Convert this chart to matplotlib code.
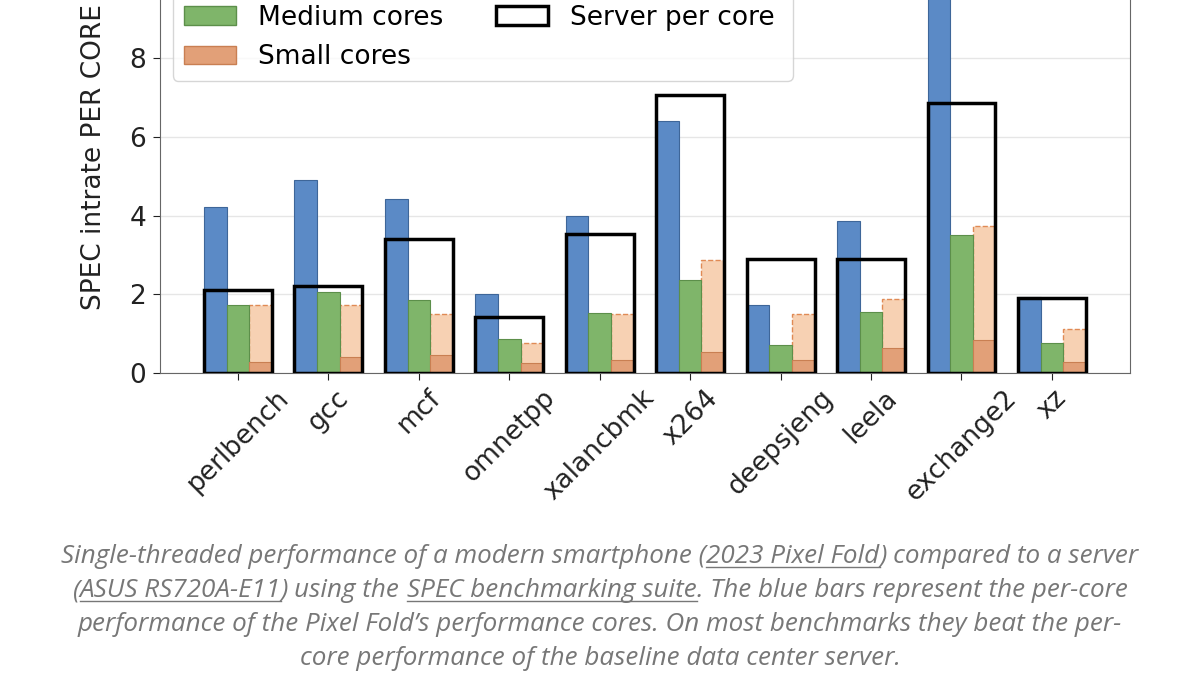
import numpy as np
import matplotlib
matplotlib.use("Agg")
import matplotlib.pyplot as plt
from matplotlib.patches import Patch
from matplotlib.lines import Line2D

benchmarks = ["perlbench", "gcc", "mcf", "omnetpp", "xalancbmk", "x264",
              "deepsjeng", "leela", "exchange2", "xz"]
big_cores = [4.21, 4.90, 4.41, 2.00, 4.00, 6.41, 1.74, 3.86, 10.3, 1.94]
medium_cores = [1.72, 2.05, 1.85, 0.86, 1.52, 2.36, 0.71, 1.54, 3.50, 0.75]
small_cores = [0.27, 0.41, 0.47, 0.26, 0.33, 0.53, 0.33, 0.63, 0.85, 0.29]
small_cores_all = [1.74, 1.73, 1.50, 0.75, 1.50, 2.87, 1.50, 1.88, 3.74, 1.12]
server_per_core = [2.11, 2.21, 3.41, 1.43, 3.52, 7.06, 2.90, 2.90, 6.85, 1.90]

caption = [
    [("Single-threaded performance of a modern smartphone (", False),
     ("2023 Pixel Fold", True), (") compared to a server", False)],
    [("(", False), ("ASUS RS720A-E11", True), (") using the ", False),
     ("SPEC benchmarking suite", True),
     (". The blue bars represent the per-core", False)],
    [("performance of the Pixel Fold\u2019s performance cores. On most benchmarks they beat the per-", False)],
    [("core performance of the baseline data center server.", False)],
]

c_blue = "#5B8AC6"
c_green = "#7FB56A"
c_orange = "#E2A078"
c_light = "#F7D1B3"

fs = 19

fig = plt.figure(figsize=(12, 6.75), dpi=100)
# axes top runs past the figure edge, like the cropped screenshot
ax = fig.add_axes([0.1333, 0.4474, 0.8083, 0.6385])

x = np.arange(len(benchmarks))
w = 0.25

ax.bar(x + w, small_cores_all, w, color=c_light, edgecolor="#E08A55",
       linestyle="--", linewidth=1, zorder=2)
ax.bar(x - w, big_cores, w, color=c_blue, edgecolor="#3E6699", linewidth=0.8,
       zorder=3)
ax.bar(x, medium_cores, w, color=c_green, edgecolor="#5C8F4A", linewidth=0.8,
       zorder=3)
ax.bar(x + w, small_cores, w, color=c_orange, edgecolor="#C97F52", linewidth=0.8,
       zorder=3)
ax.bar(x, server_per_core, 3 * w, fill=False, edgecolor="black", linewidth=2.5,
       zorder=4)

ax.set_ylim(0, 10.95)
ax.set_yticks([0, 2, 4, 6, 8])
ax.set_xticks(x)
ax.set_xticklabels(benchmarks, rotation=45, fontsize=fs)
ax.tick_params(axis="y", labelsize=fs, colors="#222222", length=5, pad=5)
ax.tick_params(axis="x", colors="#222222", length=5)
ax.set_ylabel("SPEC intrate PER CORE", fontsize=fs, color="#222222", labelpad=16)
ax.yaxis.grid(True, color="#e6e6e6", linewidth=1, zorder=0)
ax.set_axisbelow(True)
for s in ax.spines.values():
    s.set_color("#666666")

handles = [
    Patch(facecolor=c_blue, edgecolor="#3E6699", label="Big cores"),
    Patch(facecolor=c_green, edgecolor="#5C8F4A", label="Medium cores"),
    Patch(facecolor=c_orange, edgecolor="#C97F52", label="Small cores"),
    Patch(facecolor=c_light, edgecolor="#E08A55", linestyle="--", label="Small cores (all)"),
    Patch(facecolor="none", edgecolor="black", linewidth=2.5, label="Server per core"),
]
ax.legend(handles=handles, ncol=2, loc="upper left", fontsize=fs)

# caption with underlined links
renderer = fig.canvas.get_renderer()
cap_kw = dict(fontsize=14, style="italic", color="#777777",
              family=["Open Sans", "DejaVu Sans"], va="baseline")


def width_of(s):
    t = fig.text(0, 0, "a" + s + "a", **cap_kw)
    t2 = fig.text(0, 0, "aa", **cap_kw)
    wd = t.get_window_extent(renderer).width - t2.get_window_extent(renderer).width
    t.remove()
    t2.remove()
    return wd


# fit caption size so the first line spans about 1083 px, as in the reference
w0 = sum(width_of(s) for s, _ in caption[0])
cap_kw["fontsize"] = 14 * 1083 / w0

line_y = [563, 597, 631, 665]
for pieces, ypx in zip(caption, line_y):
    widths = [width_of(s) for s, _ in pieces]
    xpx = 600 - sum(widths) / 2
    yf = 1 - ypx / 675
    for (s, ul), wd in zip(pieces, widths):
        fig.text(xpx / 1200, yf, s, **cap_kw)
        if ul:
            fig.add_artist(Line2D([xpx / 1200, (xpx + wd) / 1200],
                                  [yf - 3.5 / 675, yf - 3.5 / 675],
                                  color="#777777", linewidth=1,
                                  transform=fig.transFigure))
        xpx += wd

fig.savefig("out.png", dpi=100)
plt.close()
